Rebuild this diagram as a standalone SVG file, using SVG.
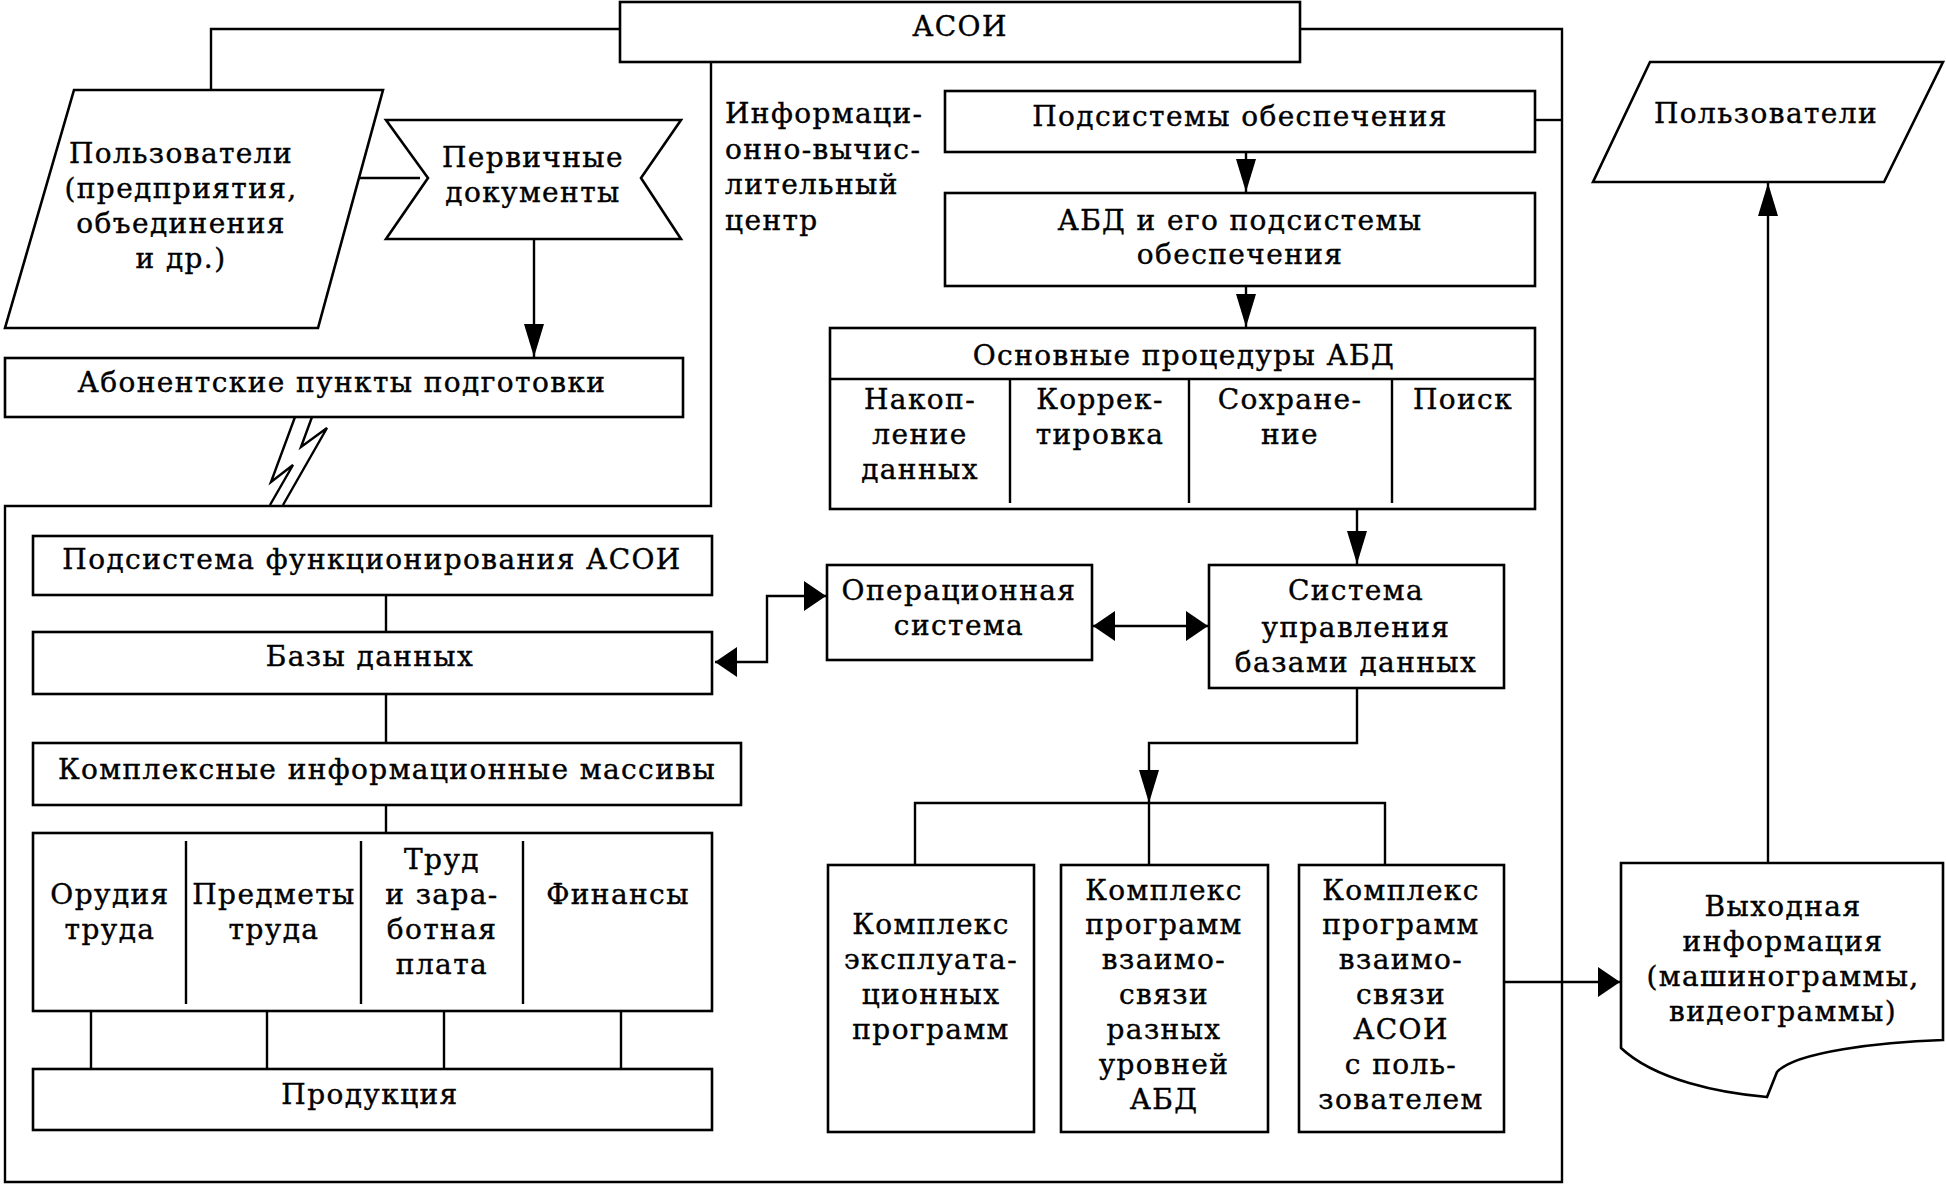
<svg xmlns="http://www.w3.org/2000/svg" width="1946" height="1188" viewBox="0 0 1946 1188">
<defs>
<style>
.b{fill:#fff;stroke:#000;stroke-width:2.6}
.l{fill:none;stroke:#000;stroke-width:2.4}
.t{font-family:"DejaVu Serif","Liberation Serif",serif;font-size:28px;letter-spacing:1.4px;fill:#000;stroke:#000;stroke-width:0.4;text-anchor:middle}
.s{text-anchor:start}
</style>
<marker id="av" markerUnits="userSpaceOnUse" markerWidth="34" markerHeight="20" refX="33" refY="10" orient="auto-start-reverse"><path d="M0,0 L33,10 L0,20 Z" fill="#000"/></marker>
<marker id="ah" markerUnits="userSpaceOnUse" markerWidth="23" markerHeight="30" refX="22" refY="15" orient="auto-start-reverse"><path d="M0,0 L22,15 L0,30 Z" fill="#000"/></marker>
</defs>
<rect width="1946" height="1188" fill="#fff"/>

<g id="connectors">
<path class="l" d="M621,29 H211 V90"/>
<path class="l" d="M711,62 V506 H5 V1182 H1562 V29 H1300"/>
<path class="l" d="M1535,120 H1562"/>
<path class="l" d="M360,178 H420"/>
<path class="l" d="M534,239 V357" marker-end="url(#av)"/>
<path class="l" d="M295,417 L271,482 L293,465 L270,505"/>
<path class="l" d="M312,417 L301,447 L327,428 L283,505"/>
<path class="l" d="M1246,152 V192" marker-end="url(#av)"/>
<path class="l" d="M1246,286 V327" marker-end="url(#av)"/>
<path class="l" d="M1357,509 V564" marker-end="url(#av)"/>
<path class="l" d="M715,662 H767 V596 H826" marker-start="url(#ah)" marker-end="url(#ah)"/>
<path class="l" d="M1093,626 H1208" marker-start="url(#ah)" marker-end="url(#ah)"/>
<path class="l" d="M1357,688 V743 H1149 V803" marker-end="url(#av)"/>
<path class="l" d="M1149,803 V865"/>
<path class="l" d="M915,865 V803 H1385 V865"/>
<path class="l" d="M386,595 V632"/>
<path class="l" d="M386,694 V743"/>
<path class="l" d="M386,805 V833"/>
<path class="l" d="M91,1011 V1069 M267,1011 V1069 M444,1011 V1069 M621,1011 V1069"/>
<path class="l" d="M1504,982 H1620" marker-end="url(#ah)"/>
<path class="l" d="M1768,863 V183" marker-end="url(#av)"/>
</g>

<g id="asoi"><rect class="b" x="620" y="2" width="680" height="60"/><text class="t" x="960" y="36">АСОИ</text></g>

<g id="users-left"><polygon class="b" points="74,90 383,90 318,328 5,328"/>
<text class="t" x="181" y="163">Пользователи</text>
<text class="t" x="181" y="198">(предприятия,</text>
<text class="t" x="181" y="233">объединения</text>
<text class="t" x="181" y="268">и др.)</text></g>

<g id="primary-docs"><polygon class="b" points="386,120 681,120 641,178 681,239 386,239 428,178"/>
<text class="t" x="533" y="167">Первичные</text>
<text class="t" x="533" y="202">документы</text></g>

<g id="subscriber"><rect class="b" x="5" y="358" width="678" height="59"/><text class="t" x="342" y="392">Абонентские пункты подготовки</text></g>

<g id="ivc-label">
<text class="t s" x="725" y="123">Информаци-</text>
<text class="t s" x="725" y="159">онно-вычис-</text>
<text class="t s" x="725" y="194">лительный</text>
<text class="t s" x="725" y="230">центр</text></g>

<g id="support"><rect class="b" x="945" y="91" width="590" height="61"/><text class="t" x="1240" y="126">Подсистемы обеспечения</text></g>

<g id="abd"><rect class="b" x="945" y="193" width="590" height="93"/>
<text class="t" x="1240" y="230">АБД и его подсистемы</text>
<text class="t" x="1240" y="264">обеспечения</text></g>

<g id="procedures"><rect class="b" x="830" y="328" width="705" height="181"/>
<path class="l" d="M830,379 H1535 M1010,379 V503 M1189,379 V503 M1392,379 V503"/>
<text class="t" x="1184" y="365">Основные процедуры АБД</text>
<text class="t" x="920" y="409">Накоп-</text><text class="t" x="920" y="444">ление</text><text class="t" x="920" y="479">данных</text>
<text class="t" x="1100" y="409">Коррек-</text><text class="t" x="1100" y="444">тировка</text>
<text class="t" x="1290" y="409">Сохране-</text><text class="t" x="1290" y="444">ние</text>
<text class="t" x="1463" y="409">Поиск</text></g>

<g id="users-right"><polygon class="b" points="1650,62 1943,62 1884,182 1593,182"/><text class="t" x="1766" y="123">Пользователи</text></g>

<g id="func-subsystem"><rect class="b" x="33" y="536" width="679" height="59"/><text class="t" x="372" y="569">Подсистема функционирования АСОИ</text></g>

<g id="databases"><rect class="b" x="33" y="632" width="679" height="62"/><text class="t" x="370" y="666">Базы данных</text></g>

<g id="arrays"><rect class="b" x="33" y="743" width="708" height="62"/><text class="t" x="387" y="779">Комплексные информационные массивы</text></g>

<g id="categories"><rect class="b" x="33" y="833" width="679" height="178"/>
<path class="l" d="M186,841 V1004 M361,841 V1004 M523,841 V1004"/>
<text class="t" x="110" y="904">Орудия</text><text class="t" x="110" y="939">труда</text>
<text class="t" x="274" y="904">Предметы</text><text class="t" x="274" y="939">труда</text>
<text class="t" x="442" y="869">Труд</text><text class="t" x="442" y="904">и зара-</text><text class="t" x="442" y="939">ботная</text><text class="t" x="442" y="974">плата</text>
<text class="t" x="618" y="904">Финансы</text></g>

<g id="production"><rect class="b" x="33" y="1069" width="679" height="61"/><text class="t" x="370" y="1104">Продукция</text></g>

<g id="os"><rect class="b" x="827" y="565" width="265" height="95"/>
<text class="t" x="959" y="600">Операционная</text><text class="t" x="959" y="635">система</text></g>

<g id="dbms"><rect class="b" x="1209" y="565" width="295" height="123"/>
<text class="t" x="1356" y="600">Система</text><text class="t" x="1356" y="637">управления</text><text class="t" x="1356" y="672">базами данных</text></g>

<g id="complex-ops"><rect class="b" x="828" y="865" width="206" height="267"/>
<text class="t" x="931" y="934">Комплекс</text><text class="t" x="931" y="969">эксплуата-</text><text class="t" x="931" y="1004">ционных</text><text class="t" x="931" y="1039">программ</text></g>

<g id="complex-levels"><rect class="b" x="1061" y="865" width="207" height="267"/>
<text class="t" x="1164" y="900">Комплекс</text><text class="t" x="1164" y="934">программ</text><text class="t" x="1164" y="969">взаимо-</text><text class="t" x="1164" y="1004">связи</text><text class="t" x="1164" y="1039">разных</text><text class="t" x="1164" y="1074">уровней</text><text class="t" x="1164" y="1109">АБД</text></g>

<g id="complex-users"><rect class="b" x="1299" y="865" width="205" height="267"/>
<text class="t" x="1401" y="900">Комплекс</text><text class="t" x="1401" y="934">программ</text><text class="t" x="1401" y="969">взаимо-</text><text class="t" x="1401" y="1004">связи</text><text class="t" x="1401" y="1039">АСОИ</text><text class="t" x="1401" y="1074">с поль-</text><text class="t" x="1401" y="1109">зователем</text></g>

<g id="output"><path class="b" d="M1621,863 H1943 V1040 C1880,1042 1795,1052 1777,1072 L1767,1097 C1720,1093 1655,1080 1621,1048 Z"/>
<text class="t" x="1783" y="916">Выходная</text><text class="t" x="1783" y="951">информация</text><text class="t" x="1783" y="986">(машинограммы,</text><text class="t" x="1783" y="1021">видеограммы)</text></g>
</svg>
